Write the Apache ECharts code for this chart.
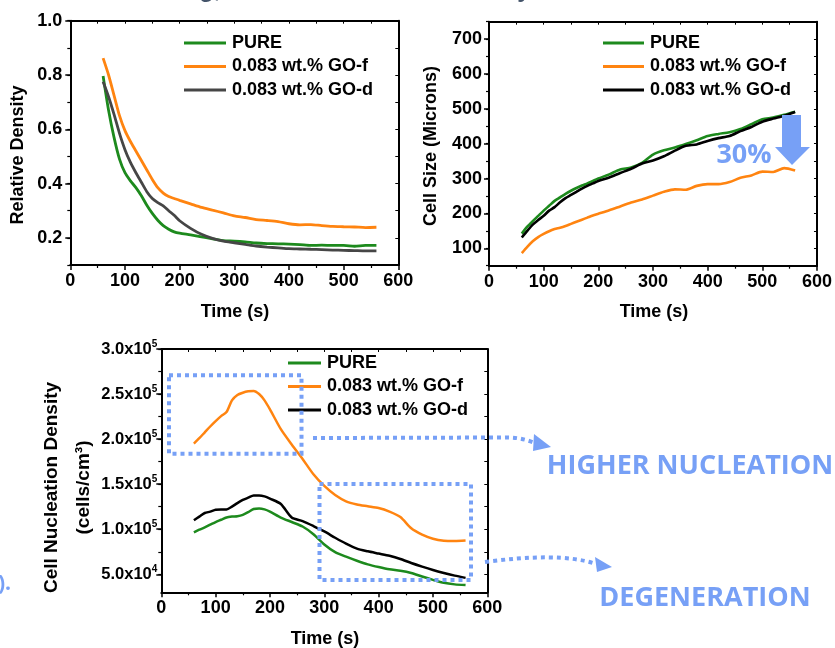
<!DOCTYPE html>
<html>
<head>
<meta charset="utf-8">
<script src="https://cdn.jsdelivr.net/npm/echarts@6/dist/echarts.min.js"></script>
<style>
html,body{margin:0;padding:0;background:#fff;}
#chart{width:835px;height:648px;}
</style>
</head>
<body>
<div id="chart"></div>
<script>
// ---------- data ----------
const timeS = [60,70,80,90,100,110,120,130,140,150,160,170,180,190,200,220,240,260,280,300,320,340,360,380,400,420,440,460,480,500,520,540,560];
const seriesLabels = ['PURE', '0.083 wt.% GO-f', '0.083 wt.% GO-d'];

const densityPure = [0.796,0.67,0.57,0.49,0.44,0.41,0.385,0.355,0.32,0.29,0.265,0.245,0.232,0.222,0.217,0.211,0.204,0.196,0.190,0.188,0.185,0.181,0.179,0.178,0.177,0.175,0.172,0.173,0.172,0.172,0.169,0.172,0.172];
const densityGOf  = [0.862,0.80,0.725,0.65,0.595,0.555,0.52,0.485,0.45,0.415,0.385,0.365,0.352,0.345,0.338,0.325,0.312,0.302,0.292,0.281,0.275,0.267,0.264,0.260,0.252,0.248,0.249,0.245,0.242,0.241,0.240,0.238,0.239];
const densityGOd  = [0.775,0.72,0.655,0.585,0.525,0.478,0.44,0.405,0.37,0.345,0.33,0.318,0.30,0.283,0.263,0.235,0.213,0.198,0.188,0.182,0.176,0.170,0.166,0.163,0.160,0.159,0.158,0.157,0.155,0.154,0.153,0.152,0.152];

const sizePure = [142,162,178,193,208,222,236,246,256,265,273,280,286,293,300,312,326,332,345,369,381,389,399,410,422,428,433,442,456,470,475,483,492];
const sizeGOf  = [86,104,120,132,141,149,155,159,164,170,176,182,188,194,199,209,220,231,240,251,262,269,268,279,284,284,290,302,309,320,319,330,323];
const sizeGOd  = [131,150,168,181,193,208,218,232,244,253,262,271,279,286,293,303,316,328,343,352,364,380,394,398,408,416,422,436,448,463,472,480,491];

const nucPure = [96500,99500,102000,105000,108000,110500,113000,114000,114500,116000,119000,122500,123000,122000,119500,113000,108000,103000,94500,83000,74500,69500,65000,61000,58000,55500,54000,51500,47500,43800,40500,38800,38000];
const nucGOf  = [195000,201000,207500,214000,220000,225500,230000,243000,249000,251500,253000,253500,250000,243000,233000,211000,194000,178000,161000,148000,138000,131000,127500,125500,123500,119500,113500,101000,94000,89500,87300,87000,87500];
const nucGOd  = [110000,114000,118000,119500,121500,122000,122000,125000,129000,132500,135000,137500,137500,136500,134000,128000,113000,109000,103500,97500,90500,84000,78500,75500,73000,70500,67000,62500,58500,54800,51500,48500,46000];

const timeTicks = [0,100,200,300,400,500,600];
const densityTicks = [0.2,0.4,0.6,0.8,1.0];
const densityMinorTicks = [0.1,0.2,0.3,0.4,0.5,0.6,0.7,0.8,0.9,1.0];
const sizeTicks = [100,200,300,400,500,600,700];
const sizeMinorTicks = [50,100,150,200,250,300,350,400,450,500,550,600,650,700,750];
const nucTicks = [50000,100000,150000,200000,250000,300000];
const nucMinorTicks = [50000,75000,100000,125000,150000,175000,200000,225000,250000,275000,300000];

// ---------- styling ----------
const FONT = 'Liberation Sans, Arial, Helvetica, sans-serif';
const ANN = 'Open Sans, Noto Sans, sans-serif';
const BLUE = '#77a0f6';
const COL_PURE = '#1d8a1d';
const COL_F = '#ff8410';
const COL_D1 = '#464646';
const COL_D = '#000000';

const grids = [
  {left: 70.3, top: 20.7, width: 328, height: 244.3},
  {left: 489, top: 21.7, width: 328.7, height: 244},
  {left: 161.3, top: 349, width: 326, height: 243.3}
];
const yCfg = [
  {min: 0.1, max: 1.0, major: densityTicks, minor: densityMinorTicks, fmt: v => v.toFixed(1), margin: 8, rich: false},
  {min: 50, max: 750, major: sizeTicks, minor: sizeMinorTicks, fmt: v => String(v), margin: 7, rich: false},
  {min: 30000, max: 300000, major: nucTicks, minor: nucMinorTicks, fmt: v => {
      const e = Math.floor(Math.log10(v) + 1e-9);
      const m = (v / Math.pow(10, e)).toFixed(1);
      return '{m|' + m + 'x10}{e|' + e + '}';
    }, margin: 4, rich: true}
];

const axisLine = {show: true, onZero: false, lineStyle: {color: '#000', width: 2}};
const labelStyle = {color: '#000', fontSize: 18, fontWeight: 'bold', fontFamily: FONT};

const xAxis = [];
const yAxis = [];
grids.forEach((g, i) => {
  xAxis.push({
    type: 'value', gridIndex: i, position: 'bottom', min: 0, max: 600, interval: 100,
    axisLine: axisLine, splitLine: {show: false},
    axisTick: {show: true, length: 5, lineStyle: {color: '#000', width: 1.5}, customValues: timeTicks},
    minorTick: {show: true, splitNumber: 2, length: 3, lineStyle: {color: '#000', width: 1.2}},
    axisLabel: Object.assign({margin: 7, customValues: timeTicks, showMinLabel: true, showMaxLabel: true}, labelStyle)
  });
  xAxis.push({
    type: 'value', gridIndex: i, position: 'top', min: 0, max: 600, interval: 50,
    axisLine: axisLine, splitLine: {show: false},
    axisTick: {show: true, inside: true, length: 3, lineStyle: {color: '#000', width: 1}},
    axisLabel: {show: false}
  });
  const c = yCfg[i];
  yAxis.push({
    type: 'value', gridIndex: i, position: 'left', min: c.min, max: c.max,
    axisLine: axisLine, splitLine: {show: false},
    axisTick: {show: true, length: 3, customValues: c.minor, lineStyle: {color: '#000', width: 1.2}},
    axisLabel: {show: false}
  });
  const lab = Object.assign({margin: c.margin, customValues: c.major, formatter: c.fmt}, labelStyle);
  if (c.rich) {
    lab.rich = {
      m: {fontSize: 16.5, fontWeight: 'bold', fontFamily: FONT, color: '#000', lineHeight: 20},
      e: {fontSize: 10, fontWeight: 'bold', fontFamily: FONT, color: '#000', verticalAlign: 'top', lineHeight: 10}
    };
  }
  yAxis.push({
    type: 'value', gridIndex: i, position: 'left', min: c.min, max: c.max,
    axisLine: {show: false}, splitLine: {show: false},
    axisTick: {show: true, length: 5, customValues: c.major, lineStyle: {color: '#000', width: 1.5}},
    axisLabel: lab
  });
  yAxis.push({
    type: 'value', gridIndex: i, position: 'right', min: c.min, max: c.max,
    axisLine: axisLine, splitLine: {show: false},
    axisTick: {show: true, inside: true, length: 3, customValues: c.minor, lineStyle: {color: '#000', width: 1}},
    axisLabel: {show: false}
  });
});

function mk(name, gi, values, color, width) {
  return {
    type: 'line', name: name, xAxisIndex: gi * 2, yAxisIndex: gi * 3,
    data: timeS.map((t, k) => [t, values[k]]),
    symbol: 'none', smooth: 0.25, animation: false,
    lineStyle: {color: color, width: width}, itemStyle: {color: color}
  };
}
const N = (lbl, gi) => lbl + '#' + gi;
const series = [
  mk(N(seriesLabels[0], 0), 0, densityPure, COL_PURE, 2.8),
  mk(N(seriesLabels[1], 0), 0, densityGOf, COL_F, 2.8),
  mk(N(seriesLabels[2], 0), 0, densityGOd, COL_D1, 2.8),
  mk(N(seriesLabels[0], 1), 1, sizePure, COL_PURE, 2.6),
  mk(N(seriesLabels[1], 1), 1, sizeGOf, COL_F, 2.6),
  mk(N(seriesLabels[2], 1), 1, sizeGOd, COL_D, 2.6),
  mk(N(seriesLabels[0], 2), 2, nucPure, COL_PURE, 2.5),
  mk(N(seriesLabels[1], 2), 2, nucGOf, COL_F, 2.5),
  mk(N(seriesLabels[2], 2), 2, nucGOd, COL_D, 2.5)
];

const legendPos = [
  {left: 184, top: 33, w: 42},
  {left: 603, top: 33, w: 41},
  {left: 288, top: 353, w: 33}
];
const legend = legendPos.map((p, gi) => ({
  orient: 'vertical', left: p.left, top: p.top, padding: 0,
  icon: 'rect', itemWidth: p.w, itemHeight: 3, itemGap: 3.5, selectedMode: false,
  data: seriesLabels.map(l => N(l, gi)),
  formatter: n => n.split('#')[0],
  textStyle: {color: '#000', fontSize: 18, fontWeight: 'bold', fontFamily: FONT, lineHeight: 20, padding: [0, 0, 0, 1]}
}));

function txt(text, x, y, size, opts) {
  opts = opts || {};
  return {
    type: 'text', x: x, y: y, rotation: opts.rot || 0, z: 100,
    style: {text: text, fontSize: size, fontWeight: opts.weight || 'bold', fontFamily: opts.font || FONT,
      fill: opts.color || '#000', align: opts.align || 'center', verticalAlign: 'middle'}
  };
}
const dash = {stroke: BLUE, lineWidth: 4, lineDash: [4, 4], fill: null};
const graphic = [
  txt('Relative Density', 18, 155, 18, {rot: Math.PI / 2}),
  txt('Time (s)', 235, 312, 18),
  txt('Cell Size (Microns)', 431, 146, 18, {rot: Math.PI / 2}),
  txt('Time (s)', 654, 312, 18),
  txt('Cell Nucleation Density', 51.5, 487.5, 19, {rot: Math.PI / 2}),
  txt('(cells/cm\u00b3)', 84, 487.5, 19, {rot: Math.PI / 2}),
  txt('Time (s)', 325, 639, 18),
  txt('g,', 210, -10, 24, {color: '#44546a'}),
  txt('y', 524, -10, 24, {color: '#44546a'}),
  txt('30%', 744, 155, 27, {font: ANN, color: BLUE}),
  {type: 'polygon', z: 100, shape: {points: [[782,115],[801,115],[801,147],[810,147],[792,165],[775,147],[782,147]]}, style: {fill: BLUE}},
  {type: 'rect', z: 100, shape: {x: 169, y: 375.3, width: 132.5, height: 78.5}, style: dash},
  {type: 'rect', z: 100, shape: {x: 319.5, y: 484, width: 151.5, height: 96}, style: dash},
  {type: 'line', z: 100, shape: {x1: 313, y1: 438, x2: 505, y2: 437.5}, style: dash},
  {type: 'bezierCurve', z: 100, shape: {x1: 505, y1: 437.5, cpx1: 520, cpy1: 437, x2: 535, y2: 443}, style: dash},
  {type: 'polygon', z: 100, shape: {points: [[534,434],[551,447],[533,451]]}, style: {fill: BLUE}},
  {type: 'bezierCurve', z: 100, shape: {x1: 485, y1: 562, cpx1: 530, cpy1: 556, cpx2: 570, cpy2: 555, x2: 596, y2: 564}, style: dash},
  {type: 'polygon', z: 100, shape: {points: [[595,557],[612,567],[597,572]]}, style: {fill: BLUE}},
  txt('HIGHER NUCLEATION', 690, 466, 27, {font: ANN, color: BLUE}),
  txt('DEGENERATION', 705, 598, 27, {font: ANN, color: BLUE}),
  txt(').', -2, 584, 21, {font: ANN, color: BLUE, align: 'left'})
];

const chart = echarts.init(document.getElementById('chart'), null, {renderer: 'canvas'});
chart.setOption({
  animation: false,
  backgroundColor: '#fff',
  grid: grids.map(g => Object.assign({containLabel: false}, g)),
  xAxis: xAxis,
  yAxis: yAxis,
  legend: legend,
  series: series,
  graphic: graphic
});
</script>
</body>
</html>
